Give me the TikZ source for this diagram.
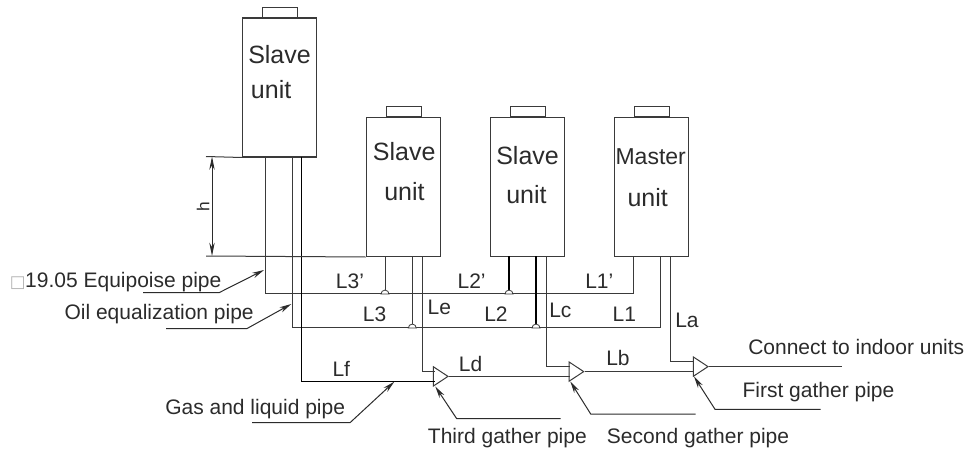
\documentclass[tikz,border=0pt]{standalone}
\usepackage{fontspec}
\setmainfont{Liberation Sans}
\newfontfamily\symfont{DejaVu Sans}
\usetikzlibrary{arrows.meta,shapes.geometric}
\definecolor{ink}{HTML}{2B2B2B}
\definecolor{pipeink}{HTML}{3A3A3A}
\tikzset{
  x=0.75pt,y=-0.75pt,
  every path/.style={line join=miter},
  unitbox/.style={draw=pipeink,line width=0.8pt,minimum width=55.5pt,minimum height=104.2pt,inner sep=0pt,anchor=north west},
  capbox/.style={draw=pipeink,line width=0.7pt,minimum width=26.25pt,minimum height=7.3pt,inner sep=0pt,anchor=south},
  pipe/.style={draw=pipeink,line width=0.75pt},
  heavypipe/.style={draw=black,line width=0.9pt},
  leader/.style={draw=ink,line width=0.75pt,-{Stealth[length=9pt,width=4.2pt]}},
  dimline/.style={draw=ink,line width=0.7pt,{Stealth[length=10pt,width=4pt]}-{Stealth[length=10pt,width=4pt]}},
  lab/.style={inner sep=0pt,anchor=base west,text=ink,font=\fontsize{15.75pt}{18pt}\selectfont},
  unitlab/.style={inner sep=0pt,anchor=base west,text=ink,font=\fontsize{18.75pt}{22pt}\selectfont},
  masterlab/.style={inner sep=0pt,anchor=base west,text=ink,font=\fontsize{17.25pt}{20pt}\selectfont},
  tee/.style={draw=pipeink,line width=0.75pt,isosceles triangle,isosceles triangle stretches,minimum width=14.5pt,minimum height=11pt,inner sep=0pt,anchor=apex,shape border rotate=0},
  dome/.style={draw=pipeink,line width=0.6pt,fill=white},
}
\begin{document}
\begin{tikzpicture}
\useasboundingbox (0,0) rectangle (966,449);
% units
\node[unitbox] (u1) at (242,17.5) {};
\node[unitbox] (u2) at (365.5,117) {};
\node[unitbox] (u3) at (490,117) {};
\node[unitbox] (u4) at (613.7,117) {};
\foreach \u in {u1,u2,u3,u4}{\node[capbox] (\u cap) at ([xshift=0.4pt]\u.north) {};}
% junctions
\coordinate (a1) at (265.3,156.5);\coordinate (b1) at (292.3,156.5);\coordinate (c1) at (301.8,156.5);
\coordinate (a2) at (385,256);\coordinate (b2) at (412.3,256);\coordinate (c2) at (422.3,256);
\coordinate (a3) at (509,256);\coordinate (b3) at (536,256);\coordinate (c3) at (546,256);
\coordinate (a4) at (633.3,256);\coordinate (b4) at (660,256);\coordinate (c4) at (670.3,256);
\coordinate (ja1) at (265.3,293);\coordinate (ja2) at (385,293);\coordinate (ja3) at (509,293);\coordinate (ja4) at (633.3,293);
\coordinate (jb1) at (292.3,327);\coordinate (jb2) at (412.3,327);\coordinate (jb3) at (536,327);\coordinate (jb4) at (660,327);
% gather pipes
\node[tee] (t3) at (449.3,376.4) {};
\node[tee] (t2) at (585,371.6) {};
\node[tee] (t1) at (709.3,366.6) {};
\coordinate (t3a) at (434.7,371.7);\coordinate (t3b) at (434.7,381.2);
\coordinate (t2a) at (570.3,366.4);
\coordinate (t1a) at (694,361.4);
\coordinate (t2in) at (570.3,376.4);
\coordinate (t1in) at (694,371.6);
\coordinate (out) at (842,366.6);
% equalisation lines
\draw[pipe] (a1) -- (ja1) -- (ja4) -- (a4);
\draw[pipe] (b1) -- (jb1) -- (jb4) -- (b4);
\draw[pipe] (a2) -- (ja2);
\draw[pipe] (b2) -- (jb2);
\draw[heavypipe] (a3) -- (ja3);
\draw[heavypipe] (b3) -- (jb3);
\draw[heavypipe] (c1) |- (t3b);
\draw[pipe] (c2) |- (t3a);
\draw[pipe] (c3) |- (t2a);
\draw[pipe] (c4) |- (t1a);
\draw[pipe] (t3.apex) -- (t2in);
\draw[pipe] (t2.apex) -- (t1in);
\draw[pipe] (t1.apex) -- (out);
% domes
\foreach \j in {ja2,jb2,ja3,jb3}{
  \draw[dome] ([xshift=-3pt,yshift=-0.8pt]\j) arc[start angle=180,end angle=0,x radius=3pt,y radius=3pt] -- cycle;
}
% dimension h
\coordinate (d1) at (206,156.5);\coordinate (d2) at (206,256);
\coordinate (d1a) at (212,156.5);\coordinate (d2a) at (212,256);
\draw[pipe] (d1) -- (u1.south west);
\draw[pipe] (d2) -- (u2.south west);
\draw[dimline] (d1a) -- (d2a);
\node[inner sep=0pt,rotate=90,text=ink,font=\fontsize{13pt}{15pt}\selectfont] (hlab) at (203,206.5) {h};
% leaders
\coordinate (l1a) at (143,292.7);\coordinate (l1b) at (219,292.7);\coordinate (l1c) at (264,270);
\coordinate (l2a) at (166,328.7);\coordinate (l2b) at (246.7,328.7);\coordinate (l2c) at (291.3,304);
\coordinate (l3a) at (252,422.7);\coordinate (l3b) at (350,422.7);\coordinate (l3c) at (394.3,381.7);
\coordinate (l4a) at (560.7,418.7);\coordinate (l4b) at (456.7,418.7);\coordinate (l4c) at (435.3,386.5);
\coordinate (l5a) at (695.7,414);\coordinate (l5b) at (590.7,414);\coordinate (l5c) at (570.3,381.5);
\coordinate (l6a) at (820.7,409.3);\coordinate (l6b) at (715,409.3);\coordinate (l6c) at (694,376.5);
\foreach \i in {1,...,6}{\draw[leader] (l\i a) -- (l\i b) -- (l\i c);}
% unit labels
\node[unitlab] (s1) at (248,63.5) {Slave};
\node[unitlab] (n1) at (250.7,99) {unit};
\node[unitlab] (s2) at (372.7,160.7) {Slave};
\node[unitlab] (n2) at (384,200) {unit};
\node[unitlab] (s3) at (496,164) {Slave};
\node[unitlab] (n3) at (506,203) {unit};
\node[masterlab] (s4) at (615.3,164) {Master};
\node[unitlab] (n4) at (627.3,206.7) {unit};
% text
\node[lab] (tq) at (9.5,287.3) {\makebox[11.6pt][l]{\symfont\color{gray!60}\fontsize{12.5pt}{15pt}\selectfont □}19.05 Equipoise pipe};
\node[lab] (toil) at (64.3,319) {Oil equalization pipe};
\node[lab] at (335.7,288.3) (L3p) {L3'};
\node[lab] at (362.7,321) (L3) {L3};
\node[lab] at (427.3,314) (Le) {Le};
\node[lab] at (457.3,288.3) (L2p) {L2'};
\node[lab] at (484,321) (L2) {L2};
\node[lab] at (549,317) (Lc) {Lc};
\node[lab] at (585,288.3) (L1p) {L1'};
\node[lab] at (612.3,321) (L1) {L1};
\node[lab] at (675,327.7) (La) {La};
\node[lab] at (458.7,371.7) (Ld) {Ld};
\node[lab] at (332.3,376.7) (Lf) {Lf};
\node[lab] at (606,365) (Lb) {Lb};
\node[lab] at (748,354) (tc) {Connect to indoor units};
\node[lab] at (742.3,397.7) (tf) {First gather pipe};
\node[lab] at (606.7,443.3) (ts) {Second gather pipe};
\node[lab] at (427.7,443.3) (tt) {Third gather pipe};
\node[lab] at (165,414) (tg) {Gas and liquid pipe};
\end{tikzpicture}
\end{document}
